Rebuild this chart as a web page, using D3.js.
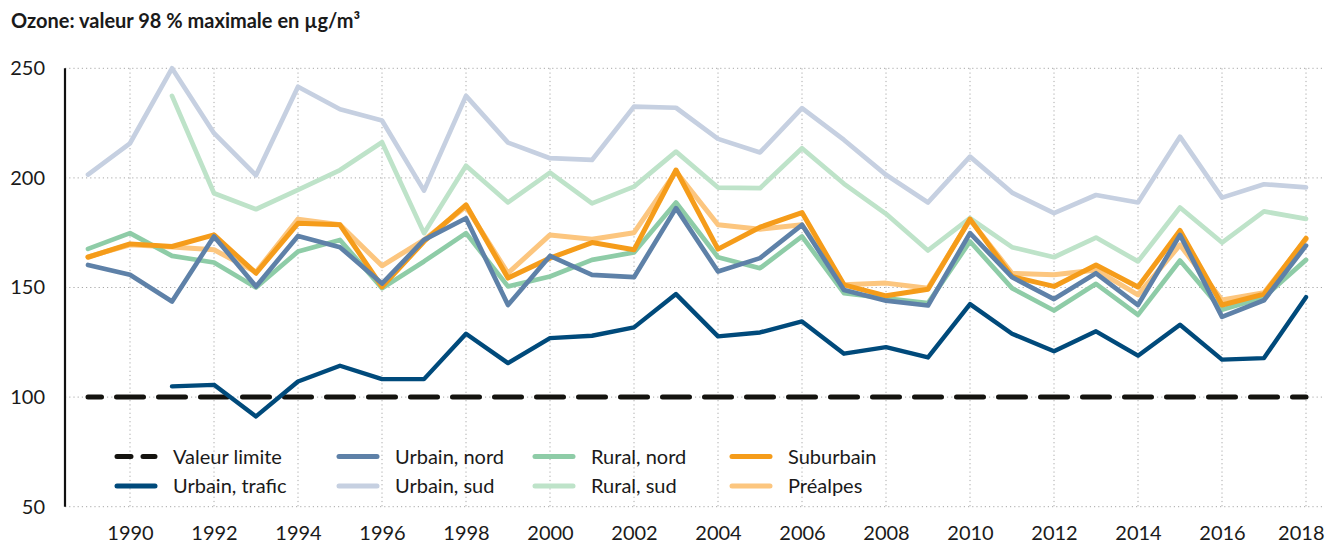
<!DOCTYPE html>
<html><head><meta charset="utf-8">
<script src="https://cdn.jsdelivr.net/npm/d3@7"></script>
<style>
html,body{margin:0;padding:0;background:#fff;}
svg{display:block;font-family:Lato,"Open Sans",sans-serif;}
</style></head>
<body><svg id="c" width="1325" height="545"></svg>
<script>
const years = [1989,1990,1991,1992,1993,1994,1995,1996,1997,1998,1999,2000,2001,2002,2003,2004,2005,2006,2007,2008,2009,2010,2011,2012,2013,2014,2015,2016,2017,2018];
const xTicks = [1990,1992,1994,1996,1998,2000,2002,2004,2006,2008,2010,2012,2014,2016,2018];
const yTicks = [50,100,150,200,250];
const valeurLimite = [100,100,100,100,100,100,100,100,100,100,100,100,100,100,100,100,100,100,100,100,100,100,100,100,100,100,100,100,100,100];
const urbainTrafic = [null,null,104.9,105.6,91.2,107.1,114.3,108.2,108.2,128.9,115.5,126.9,128,131.8,147,127.7,129.5,134.5,119.8,122.8,118.1,142.4,128.9,120.9,130,118.9,133,117.1,117.8,145.6];
const urbainNord = [160.3,155.8,143.6,173.3,150.5,173.5,168.4,151.8,171.7,181.6,142,164.4,155.8,154.7,186.2,157.3,163.4,178.6,148.9,144,141.8,174.8,154.7,144.7,156.5,142,174,136.6,144.2,169.1];
const urbainSud = [201.5,215.8,250,220.4,201.2,241.6,231.3,226.2,194.2,237.4,216.1,209,208.2,232.5,232,217.8,211.6,231.8,217.3,201.4,188.8,209.7,193.3,183.9,192.2,188.8,218.8,191,197.1,195.7];
const ruralNord = [167.6,174.8,164.4,161.4,150,166.4,171.7,149.7,161.9,174.8,150.5,155,162.6,166,188.8,163.8,158.8,173.3,147.4,145.1,142.9,171,149.7,139.5,151.7,137.5,162.3,139.8,145.6,162.6];
const ruralSud = [null,null,237.4,193,185.7,194.5,203.6,216.3,174.8,205.5,188.8,202.4,188.4,196,212,195.6,195.3,213.5,197.3,183.6,166.9,181.6,168.4,163.8,172.8,161.9,186.5,170.5,184.7,181.3];
const suburbain = [163.8,169.9,168.7,174,156.5,179.3,178.6,150.3,171,187.7,154.3,163.4,170.5,167.2,203.6,167.5,177.5,184.2,151.2,146.2,149.2,181.2,155,150.5,160.3,150.2,176,142,147,172.5];
const prealpes = [164,169.5,168.5,167.2,157,181.2,178.6,159.9,171.7,186.9,156.5,174,172,175,202.9,178.6,176.6,178.6,151.2,152,149.7,180.9,156.5,155.8,158,146.6,169.4,144.3,147.6,172];
const seriesNames = ["Valeur limite","Urbain, trafic","Urbain, nord","Urbain, sud","Rural, nord","Rural, sud","Suburbain","Préalpes"];
const title = "Ozone: valeur 98 % maximale en µg/m³";

const styles = {
  "Valeur limite": {color:"#14130f", w:5, dash:true},
  "Urbain, trafic": {color:"#004a7b", w:4.4},
  "Urbain, nord": {color:"#5e81a8", w:4.7},
  "Urbain, sud": {color:"#c6d0e1", w:4.7},
  "Rural, nord": {color:"#8ecca7", w:4.7},
  "Rural, sud": {color:"#bee3c9", w:4.7},
  "Suburbain": {color:"#f59c1a", w:5},
  "Préalpes": {color:"#fcc67f", w:5}
};
const seriesData = {
  "Valeur limite": valeurLimite, "Urbain, trafic": urbainTrafic, "Urbain, nord": urbainNord,
  "Urbain, sud": urbainSud, "Rural, nord": ruralNord, "Rural, sud": ruralSud,
  "Suburbain": suburbain, "Préalpes": prealpes
};
const drawOrder = ["Urbain, sud","Rural, sud","Préalpes","Rural, nord","Suburbain","Urbain, nord","Valeur limite","Urbain, trafic"];

const svg = d3.select("#c");
const W = 1325;
const x = d3.scaleLinear().domain([1989, 2018]).range([88, 1306]);
const y = d3.scaleLinear().domain([50, 250]).range([506.7, 68.3]);
const plotLeft = 65, plotRight = W;

svg.append("text").attr("x", 11).attr("y", 28).attr("font-size", 20).attr("font-weight", 700)
  .attr("fill", "#1a1a1a").text(title);

// grid
const grid = svg.append("g");
grid.selectAll("line.h").data(yTicks).join("line")
  .attr("x1", plotLeft).attr("x2", plotRight).attr("y1", d => y(d)).attr("y2", d => y(d))
  .attr("stroke", "#a8a8a8").attr("stroke-width", 1).attr("stroke-dasharray", "1.2,3");
grid.selectAll("line.v").data(xTicks).join("line")
  .attr("x1", d => x(d)).attr("x2", d => x(d)).attr("y1", y(250)).attr("y2", y(50))
  .attr("stroke", "#a8a8a8").attr("stroke-width", 1).attr("stroke-dasharray", "1.2,3");

// axes
const yAxis = d3.axisLeft(y).tickValues(yTicks).tickSize(0).tickPadding(20);
const ya = svg.append("g").attr("transform", `translate(${plotLeft},0)`).call(yAxis);
ya.select(".domain").remove();
ya.selectAll("text").attr("font-size", 20).attr("fill", "#1a1a1a").attr("font-family", "Lato");
svg.append("line").attr("x1", plotLeft).attr("x2", plotLeft).attr("y1", y(250)).attr("y2", y(50))
  .attr("stroke", "#111").attr("stroke-width", 2.2);

const xAxis = d3.axisBottom(x).tickValues(xTicks).tickFormat(d3.format("d")).tickSize(0).tickPadding(0);
const xa = svg.append("g").attr("transform", `translate(0,${y(50)})`).call(xAxis);
xa.select(".domain").remove();
xa.selectAll("text").attr("font-size", 20).attr("fill", "#1a1a1a").attr("font-family", "Lato")
  .attr("dy", null).attr("y", 33.5);
xa.selectAll(".tick").filter(d => d === 2018).select("text")
  .attr("text-anchor", "end").attr("x", W - 1 - x(2018));

// lines
const line = d3.line().defined(d => d.v != null).x(d => x(d.year)).y(d => y(d.v));
const lines = svg.append("g");
drawOrder.forEach(name => {
  const s = styles[name];
  const pts = years.map((yr, i) => ({year: yr, v: seriesData[name][i]}));
  const p = lines.append("path").datum(pts).attr("d", line)
    .attr("fill", "none").attr("stroke", s.color).attr("stroke-width", s.w)
    .attr("stroke-linejoin", "round").attr("stroke-linecap", "round");
  if (s.dash) p.attr("stroke-dasharray", "27,15").attr("stroke-dashoffset", 13.5);
});

// legend
const legCols = [115, 337, 533, 730];
const legRows = [456.5, 486];
const lg = svg.append("g");
seriesNames.forEach((name, i) => {
  const cx = legCols[Math.floor(i / 2)], cy = legRows[i % 2];
  const s = styles[name];
  const sw = lg.append("line").attr("x1", cx + 2).attr("x2", cx + 40).attr("y1", cy).attr("y2", cy)
    .attr("stroke", s.color).attr("stroke-width", 5).attr("stroke-linecap", "round");
  if (s.dash) sw.attr("stroke-dasharray", "14,12");
  lg.append("text").attr("x", cx + 58).attr("y", cy).attr("dy", "0.35em")
    .attr("font-size", 20).attr("fill", "#1a1a1a").text(name);
});
</script></body></html>
